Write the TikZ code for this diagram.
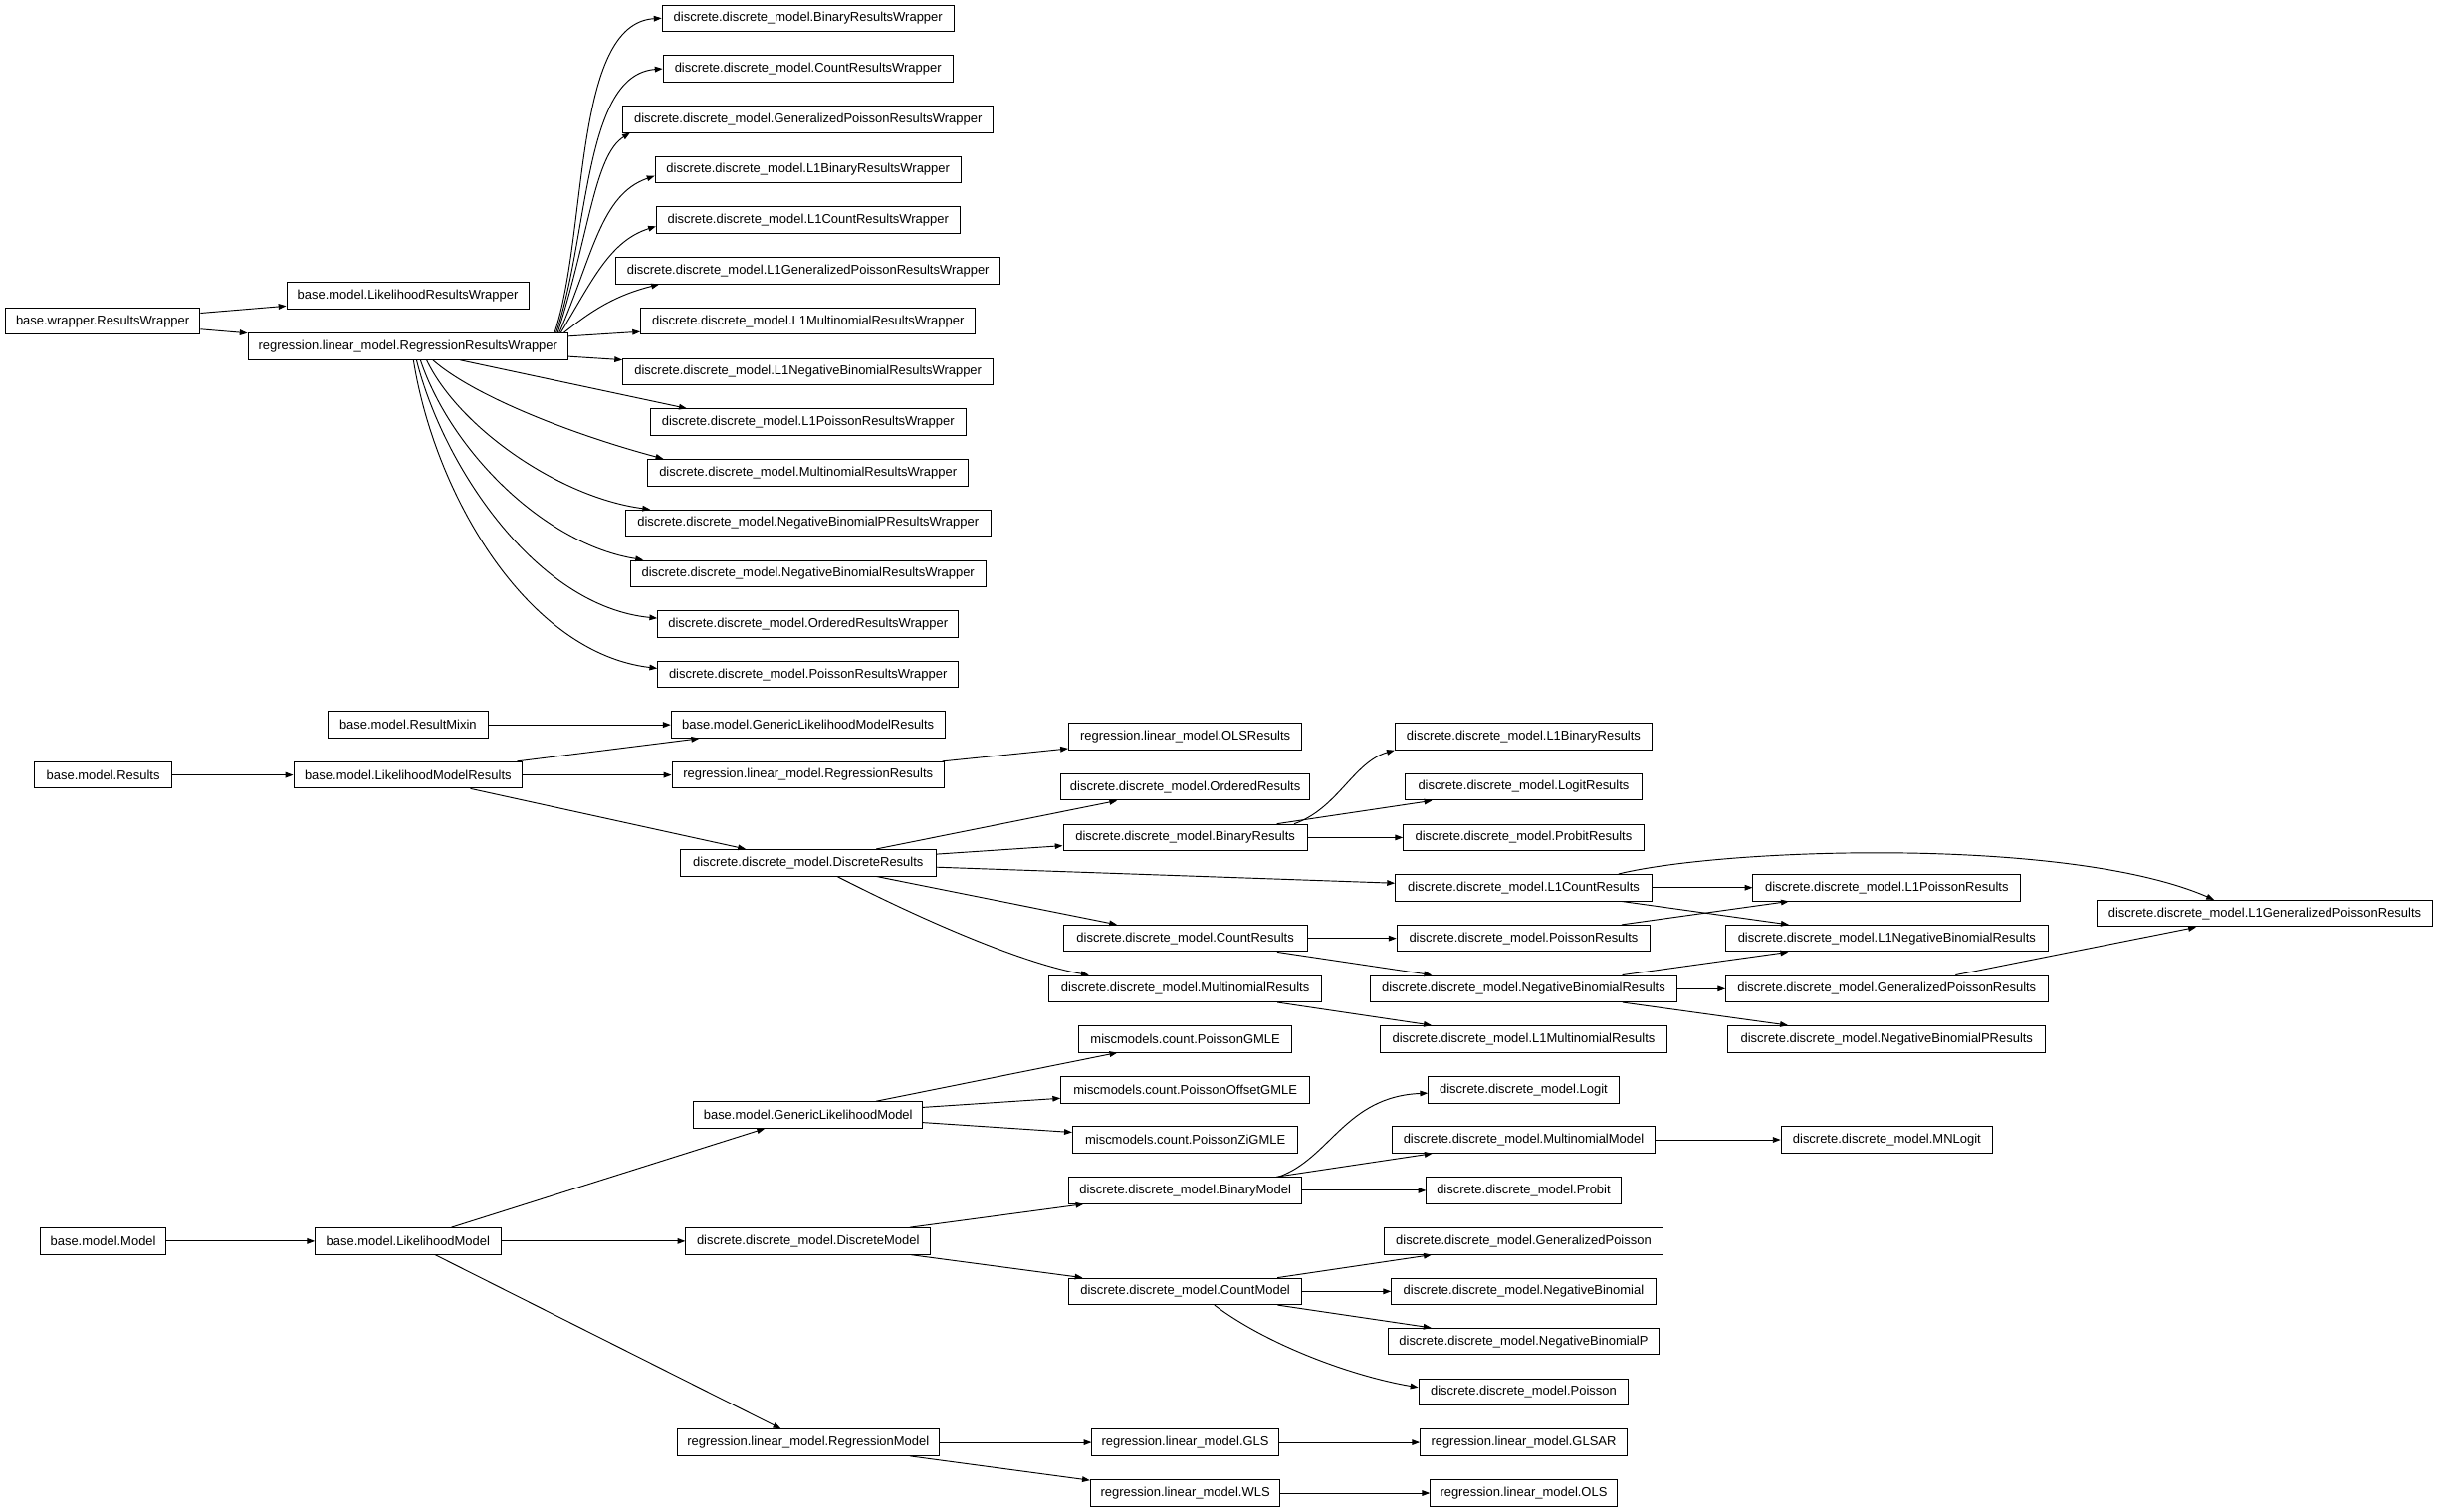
\documentclass[tikz,border=0pt]{standalone}
\usepackage{fontspec}
\setmainfont{Liberation Sans}
\usetikzlibrary{arrows.meta}
\tikzset{
 box/.style={draw=black, line width=0.6pt, inner sep=0pt, minimum height=17pt, font=\fontsize{8.3}{10}\selectfont, fill=white},
 edge/.style={draw=black, line width=0.6pt, -{Triangle[length=5pt,width=3.6pt]}},
}
\newcommand\mynode[5]{\node[box, minimum width=#4pt] (#1) at (#2,#3) {#5};}
\begin{document}
\begin{tikzpicture}[x=1pt,y=-1pt]
\fill[white] (0,0) rectangle (1568,972);
\useasboundingbox (0,0) rectangle (1568,972);
% ---------- wrappers
\mynode{rw}{66}{206.5}{125.2}{base.wrapper.ResultsWrapper}
\mynode{lrw}{262.1}{190.2}{155.6}{base.model.LikelihoodResultsWrapper}
\mynode{rrw}{262.3}{222.7}{205.8}{regression.linear\_model.RegressionResultsWrapper}
\mynode{w1}{519.5}{11.7}{187.7}{discrete.discrete\_model.BinaryResultsWrapper}
\mynode{w2}{519.5}{44.2}{186.4}{discrete.discrete\_model.CountResultsWrapper}
\mynode{w3}{519.5}{76.6}{238.3}{discrete.discrete\_model.GeneralizedPoissonResultsWrapper}
\mynode{w4}{519.5}{109.1}{196.7}{discrete.discrete\_model.L1BinaryResultsWrapper}
\mynode{w5}{519.5}{141.5}{195}{discrete.discrete\_model.L1CountResultsWrapper}
\mynode{w6}{519.5}{174}{247}{discrete.discrete\_model.L1GeneralizedPoissonResultsWrapper}
\mynode{w7}{519.5}{206.5}{215.2}{discrete.discrete\_model.L1MultinomialResultsWrapper}
\mynode{w8}{519.5}{238.9}{238.3}{discrete.discrete\_model.L1NegativeBinomialResultsWrapper}
\mynode{w9}{519.5}{271.4}{202.7}{discrete.discrete\_model.L1PoissonResultsWrapper}
\mynode{w10}{519.5}{303.8}{206.2}{discrete.discrete\_model.MultinomialResultsWrapper}
\mynode{w11}{519.5}{336.3}{234.9}{discrete.discrete\_model.NegativeBinomialPResultsWrapper}
\mynode{w12}{519.5}{368.8}{228.4}{discrete.discrete\_model.NegativeBinomialResultsWrapper}
\mynode{w13}{519.5}{401.2}{193.3}{discrete.discrete\_model.OrderedResultsWrapper}
\mynode{w14}{519.5}{433.7}{193.3}{discrete.discrete\_model.PoissonResultsWrapper}
% ---------- results
\mynode{rmix}{262.3}{466}{102.8}{base.model.ResultMixin}
\mynode{glmr}{519.5}{466}{176}{base.model.GenericLikelihoodModelResults}
\mynode{res}{66.3}{498.3}{88}{base.model.Results}
\mynode{lmr}{262.3}{498.3}{147}{base.model.LikelihoodModelResults}
\mynode{rr}{519.5}{498.3}{175}{regression.linear\_model.RegressionResults}
\mynode{dr}{519.5}{554.7}{164.7}{discrete.discrete\_model.DiscreteResults}
\mynode{olsr}{762}{473.6}{150}{regression.linear\_model.OLSResults}
\mynode{ordr}{762}{506}{160}{discrete.discrete\_model.OrderedResults}
\mynode{binr}{762}{538.5}{157}{discrete.discrete\_model.BinaryResults}
\mynode{cntr}{762}{603.3}{157}{discrete.discrete\_model.CountResults}
\mynode{mnr}{762}{635.7}{175}{discrete.discrete\_model.MultinomialResults}
\mynode{l1binr}{979.5}{473.6}{165.4}{discrete.discrete\_model.L1BinaryResults}
\mynode{logitr}{979.5}{506}{152}{discrete.discrete\_model.LogitResults}
\mynode{probitr}{979.5}{538.5}{154.6}{discrete.discrete\_model.ProbitResults}
\mynode{l1cntr}{979.5}{570.7}{165}{discrete.discrete\_model.L1CountResults}
\mynode{poir}{979.5}{603.3}{163}{discrete.discrete\_model.PoissonResults}
\mynode{nbr}{979.5}{635.7}{197.4}{discrete.discrete\_model.NegativeBinomialResults}
\mynode{l1mnr}{979.5}{668}{184}{discrete.discrete\_model.L1MultinomialResults}
\mynode{l1poir}{1213}{570.7}{172}{discrete.discrete\_model.L1PoissonResults}
\mynode{l1nbr}{1213}{603.3}{207}{discrete.discrete\_model.L1NegativeBinomialResults}
\mynode{gpr}{1213}{635.7}{207}{discrete.discrete\_model.GeneralizedPoissonResults}
\mynode{nbpr}{1213}{668}{204}{discrete.discrete\_model.NegativeBinomialPResults}
\mynode{l1gpr}{1456}{587.3}{216}{discrete.discrete\_model.L1GeneralizedPoissonResults}
% ---------- models
\mynode{model}{66.3}{798}{81}{base.model.Model}
\mynode{lm}{262.3}{798}{119.3}{base.model.LikelihoodModel}
\mynode{glm}{519.5}{716.8}{147}{base.model.GenericLikelihoodModel}
\mynode{dm}{519.5}{798}{157.3}{discrete.discrete\_model.DiscreteModel}
\mynode{regm}{519.5}{927.4}{168}{regression.linear\_model.RegressionModel}
\mynode{pgmle}{762}{668}{137}{miscmodels.count.PoissonGMLE}
\mynode{pogmle}{762}{700.8}{160}{miscmodels.count.PoissonOffsetGMLE}
\mynode{pzigmle}{762}{732.8}{145}{miscmodels.count.PoissonZiGMLE}
\mynode{binm}{762}{765.4}{150}{discrete.discrete\_model.BinaryModel}
\mynode{cntm}{762}{830.3}{150}{discrete.discrete\_model.CountModel}
\mynode{gls}{762}{927.4}{120}{regression.linear\_model.GLS}
\mynode{wls}{762}{960}{122}{regression.linear\_model.WLS}
\mynode{logit}{979.5}{700.8}{122.6}{discrete.discrete\_model.Logit}
\mynode{mnm}{979.5}{732.8}{169}{discrete.discrete\_model.MultinomialModel}
\mynode{probit}{979.5}{765.4}{125}{discrete.discrete\_model.Probit}
\mynode{gp}{979.5}{798}{179}{discrete.discrete\_model.GeneralizedPoisson}
\mynode{nb}{979.5}{830.3}{170}{discrete.discrete\_model.NegativeBinomial}
\mynode{nbp}{979.5}{862.5}{174.5}{discrete.discrete\_model.NegativeBinomialP}
\mynode{poisson}{979.5}{895}{135}{discrete.discrete\_model.Poisson}
\mynode{glsar}{979.5}{927.4}{133}{regression.linear\_model.GLSAR}
\mynode{ols}{979.5}{960}{120}{regression.linear\_model.OLS}
\mynode{mnlogit}{1213}{732.8}{136}{discrete.discrete\_model.MNLogit}
% ---------- wrapper edges
\draw[edge] (rw) -- (lrw);
\draw[edge] (rw) -- (rrw);
\draw[edge] ([xshift=-9pt]rrw.north east) .. controls (378,150) and (368,15) .. (w1.west);
\draw[edge] ([xshift=-8pt]rrw.north east) .. controls (379,150) and (375,48) .. (w2.west);
\draw[edge] ([xshift=-7pt]rrw.north east) .. controls (379,150) and (382,100) .. ([xshift=5pt]w3.south west);
\draw[edge] ([xshift=-6pt]rrw.north east) .. controls (381,165) and (386,125) .. ([yshift=-4pt]w4.west);
\draw[edge] ([xshift=-5pt]rrw.north east) .. controls (381,180) and (392,155) .. ([yshift=-4pt]w5.west);
\draw[edge] ([xshift=-3pt]rrw.north east) .. controls (380,200) and (395,190) .. ([xshift=28pt]w6.south west);
\draw[edge] (rrw) -- (w7);
\draw[edge] (rrw) -- (w8);
\draw[edge] ([xshift=33.4pt]rrw.south) -- ([xshift=-78pt]w9.north);
\draw[edge] ([xshift=16pt]rrw.south) .. controls (305,255) and (370,280) .. ([xshift=-93pt]w10.north);
\draw[edge] ([xshift=12pt]rrw.south) .. controls (295,275) and (360,320) .. ([xshift=-101.5pt]w11.north);
\draw[edge] ([xshift=8pt]rrw.south) .. controls (290,290) and (350,350) .. ([xshift=-106pt]w12.north);
\draw[edge] ([xshift=5.5pt]rrw.south) .. controls (285,300) and (345,390) .. ([yshift=3.7pt]w13.west);
\draw[edge] ([xshift=3.5pt]rrw.south) .. controls (280,320) and (340,420) .. ([yshift=4pt]w14.west);
% ---------- result edges
\draw[edge] (rmix) -- (glmr);
\draw[edge] (lmr) -- (glmr);
\draw[edge] (res) -- (lmr);
\draw[edge] (lmr) -- (rr);
\draw[edge] (lmr) -- (dr);
\draw[edge] (rr) -- (olsr);
\draw[edge] (dr) -- (ordr);
\draw[edge] (dr) -- (binr);
\draw[edge] (dr) -- (l1cntr);
\draw[edge] (dr) -- (cntr);
\draw[edge] ([xshift=18.6pt]dr.south) .. controls (600,595) and (660,620) .. ([xshift=-62pt]mnr.north);
\draw[edge] ([xshift=70pt]binr.north) .. controls (860,520) and (870,490) .. (l1binr.south west);
\draw[edge] (binr) -- (logitr);
\draw[edge] (binr) -- (probitr);
\draw[edge] (l1cntr) -- (l1poir);
\draw[edge] ([xshift=61pt]l1cntr.north) .. controls (1110,545) and (1330,538) .. ([xshift=-32.6pt]l1gpr.north);
\draw[edge] (l1cntr) -- (l1nbr);
\draw[edge] (cntr) -- (poir);
\draw[edge] (cntr) -- (nbr);
\draw[edge] (poir) -- (l1poir);
\draw[edge] (nbr) -- (l1nbr);
\draw[edge] (nbr) -- (gpr);
\draw[edge] (nbr) -- (nbpr);
\draw[edge] (gpr) -- (l1gpr);
\draw[edge] (mnr) -- (l1mnr);
% ---------- model edges
\draw[edge] (model) -- (lm);
\draw[edge] (lm) -- (glm);
\draw[edge] (lm) -- (dm);
\draw[edge] (lm) -- (regm);
\draw[edge] (glm) -- (pgmle);
\draw[edge] (glm) -- (pogmle);
\draw[edge] (glm) -- (pzigmle);
\draw[edge] (dm) -- (binm);
\draw[edge] (dm) -- (cntm);
\draw[edge] ([xshift=60pt]binm.north) .. controls (855,745) and (865,705) .. ([yshift=-2pt]logit.west);
\draw[edge] (binm) -- (mnm);
\draw[edge] (binm) -- (probit);
\draw[edge] (mnm) -- (mnlogit);
\draw[edge] (cntm) -- (gp);
\draw[edge] (cntm) -- (nb);
\draw[edge] (cntm) -- (nbp);
\draw[edge] ([xshift=18.7pt]cntm.south) .. controls (815,865) and (870,885) .. ([yshift=3pt]poisson.west);
\draw[edge] (regm) -- (gls);
\draw[edge] (regm) -- (wls);
\draw[edge] (gls) -- (glsar);
\draw[edge] (wls) -- (ols);
\end{tikzpicture}
\end{document}
